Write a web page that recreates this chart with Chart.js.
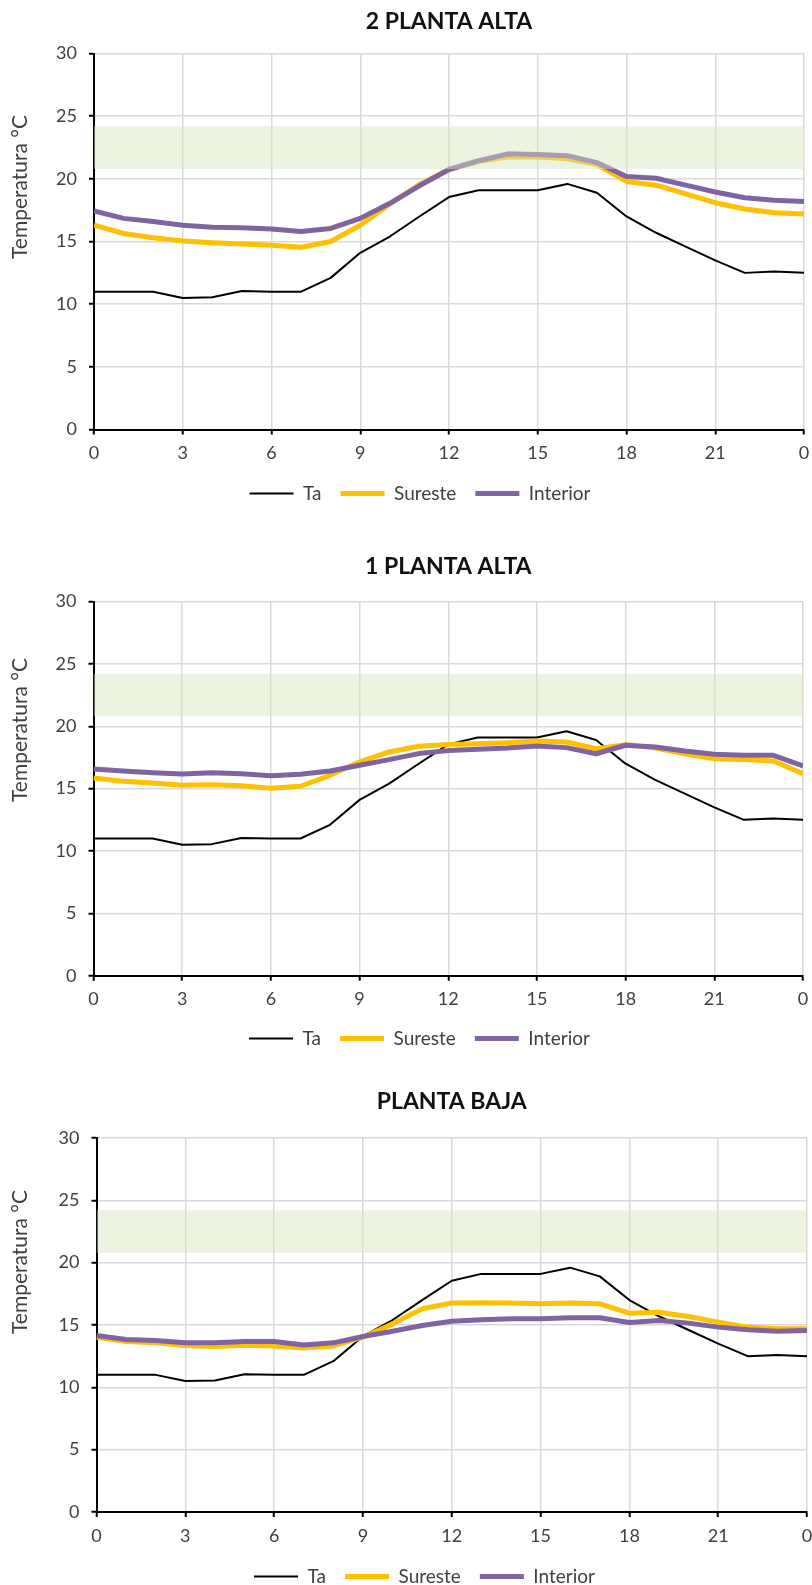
<!DOCTYPE html>
<html><head><meta charset="utf-8">
<script src="https://cdn.jsdelivr.net/npm/chart.js@4.4.1/dist/chart.umd.min.js"></script>
<style>
html,body{margin:0;padding:0;background:#fff;overflow:hidden;width:812px;height:1585px;position:relative;}
.wrap{position:absolute;left:0;width:812px;}
canvas{display:block;}
</style></head><body>
<div class="wrap" id="w1"><canvas id="c1"></canvas></div>
<div class="wrap" id="w2"><canvas id="c2"></canvas></div>
<div class="wrap" id="w3"><canvas id="c3"></canvas></div>
<script>
// ---- data ----
const hours = [0,1,2,3,4,5,6,7,8,9,10,11,12,13,14,15,16,17,18,19,20,21,22,23,24];
const xTickLabels = ['0','3','6','9','12','15','18','21','0'];
const seriesNames = ['Ta','Sureste','Interior'];
const chartTitles = ['2 PLANTA ALTA','1 PLANTA ALTA','PLANTA BAJA'];
const yAxisTitle = 'Temperatura °C';
const bandX = [0, 24];
const bandLow = 20.8;
const bandHigh = 24.2;

const ta = [11.0,11.0,11.0,10.5,10.55,11.05,11.0,11.0,12.1,14.1,15.4,17.0,18.55,19.1,19.1,19.1,19.6,18.9,17.0,15.7,14.6,13.5,12.5,12.6,12.5];

const sureste2PA  = [16.3,15.65,15.3,15.05,14.9,14.8,14.7,14.55,15.0,16.3,18.0,19.55,20.75,21.4,21.75,21.75,21.6,21.15,19.8,19.5,18.8,18.1,17.6,17.3,17.2];
const interior2PA = [17.45,16.85,16.6,16.3,16.15,16.1,16.0,15.8,16.05,16.85,18.05,19.45,20.75,21.45,22.0,21.95,21.85,21.3,20.2,20.05,19.5,18.95,18.5,18.3,18.2];

const sureste1PA  = [15.85,15.6,15.45,15.27,15.32,15.24,15.03,15.19,16.07,17.14,17.94,18.4,18.55,18.6,18.69,18.82,18.74,18.2,18.53,18.26,17.8,17.4,17.33,17.22,16.2];
const interior1PA = [16.58,16.42,16.28,16.18,16.28,16.2,16.04,16.15,16.42,16.87,17.33,17.81,18.05,18.16,18.26,18.42,18.29,17.8,18.48,18.34,18.02,17.75,17.67,17.67,16.82];

const surestePB  = [14.02,13.67,13.57,13.35,13.27,13.38,13.32,13.16,13.32,14.02,15.09,16.3,16.77,16.78,16.76,16.7,16.76,16.7,15.95,16.03,15.68,15.23,14.83,14.69,14.69];
const interiorPB = [14.16,13.83,13.75,13.57,13.57,13.67,13.67,13.4,13.57,14.08,14.5,14.96,15.3,15.42,15.5,15.5,15.58,15.58,15.2,15.36,15.15,14.83,14.61,14.5,14.56];

// ---- styles ----
const FONT = 'Lato, "Open Sans", sans-serif';
const colTa = '#000000', colSur = '#FFC000', colInt = '#8064A2';
const bandColor = 'rgba(215,228,189,0.45)';

const layouts = [
  {top:0,    H:513, tPadTop:8, tPadBot:18,   xAxisH:35.5, yAxisW:94,   padRight:8, yTitleY:187, legendShift:18},
  {top:545,  H:513, tPadTop:8, tPadBot:21,   xAxisH:34.3, yAxisW:93.5, padRight:9, yTitleY:185, legendShift:18},
  {top:1080, H:516, tPadTop:8, tPadBot:22.4, xAxisH:36,   yAxisW:96.5, padRight:5, yTitleY:182, legendShift:21}
];

const yTitlePlugin = {
  id: 'yTitle',
  afterDraw(chart, args, opts) {
    const ctx = chart.ctx;
    ctx.save();
    ctx.translate(opts.x, opts.y);
    ctx.rotate(-Math.PI / 2);
    ctx.font = opts.font;
    ctx.fillStyle = opts.color;
    ctx.textAlign = 'center';
    ctx.textBaseline = 'middle';
    ctx.fillText(opts.text, 0, 0);
    ctx.restore();
  }
};

const legendShiftPlugin = {
  id: 'legendShift',
  afterLayout(chart, args, opts) {
    if (chart.legend) {
      chart.legend.left += opts.dx;
      chart.legend.right += opts.dx;
    }
  }
};

function pts(xs, ys) { return xs.map((x, i) => ({x: x, y: ys[i]})); }

function makeChart(idx, sur, int) {
  const L = layouts[idx];
  const wrap = document.getElementById('w' + (idx + 1));
  wrap.style.top = L.top + 'px';
  const cv = document.getElementById('c' + (idx + 1));
  cv.width = 812; cv.height = L.H;
  cv.style.width = '812px'; cv.style.height = L.H + 'px';
  return new Chart(cv, {
    type: 'line',
    data: {
      datasets: [
        {label: seriesNames[0], data: pts(hours, ta), borderColor: colTa, backgroundColor: colTa, borderWidth: 2, order: 3},
        {label: seriesNames[1], data: pts(hours, sur), borderColor: colSur, backgroundColor: colSur, borderWidth: 5, order: 2},
        {label: seriesNames[2], data: pts(hours, int), borderColor: colInt, backgroundColor: colInt, borderWidth: 5, order: 1},
        {label: 'bandLow', data: pts(bandX, bandX.map(() => bandLow)), borderWidth: 0, borderColor: 'rgba(0,0,0,0)', fill: false, order: 0},
        {label: 'bandHigh', data: pts(bandX, bandX.map(() => bandHigh)), borderWidth: 0, borderColor: 'rgba(0,0,0,0)', backgroundColor: bandColor, fill: '-1', order: 0}
      ]
    },
    options: {
      responsive: false,
      animation: false,
      devicePixelRatio: 1,
      layout: {padding: {top: 0, left: 0, right: L.padRight, bottom: 0}},
      elements: {
        point: {radius: 0, hoverRadius: 0},
        line: {tension: 0, borderJoinStyle: 'round', borderCapStyle: 'butt'}
      },
      scales: {
        x: {
          type: 'linear', min: 0, max: 24,
          afterFit(s) { s.height = L.xAxisH; s.paddingLeft = 0; s.paddingRight = 0; },
          border: {color: '#000', width: 2},
          grid: {color: '#D9D9D9', lineWidth: 1.5, tickColor: '#000', tickLength: 5, tickWidth: 2},
          ticks: {stepSize: 3, autoSkip: false, maxRotation: 0, padding: 8, color: '#404040',
                  font: {family: FONT, size: 18},
                  callback: (v, i) => xTickLabels[i]}
        },
        y: {
          min: 0, max: 30,
          afterFit(s) { s.width = L.yAxisW; },
          border: {color: '#000', width: 2},
          grid: {color: '#D9D9D9', lineWidth: 1.5, tickColor: '#000', tickLength: 5, tickWidth: 2},
          ticks: {stepSize: 5, padding: 12, color: '#404040', font: {family: FONT, size: 18}}
        }
      },
      plugins: {
        title: {display: true, text: chartTitles[idx], color: '#111', fullSize: false,
                font: {family: FONT, size: 23, weight: 'bold', lineHeight: 1.2},
                padding: {top: L.tPadTop, bottom: L.tPadBot}},
        legend: {
          position: 'bottom',
          labels: {
            usePointStyle: true, pointStyle: 'line', pointStyleWidth: 44,
            padding: 19, color: '#404040', font: {family: FONT, size: 19},
            filter: (item) => item.datasetIndex < 3,
            sort: (a, b) => a.datasetIndex - b.datasetIndex
          }
        },
        tooltip: {enabled: false},
        filler: {drawTime: 'beforeDatasetDraw'},
        yTitle: {text: yAxisTitle, x: 20, y: L.yTitleY, font: '21px ' + FONT, color: '#404040'},
        legendShift: {dx: L.legendShift}
      }
    },
    plugins: [yTitlePlugin, legendShiftPlugin]
  });
}

makeChart(0, sureste2PA, interior2PA);
makeChart(1, sureste1PA, interior1PA);
makeChart(2, surestePB, interiorPB);
</script>
</body></html>
